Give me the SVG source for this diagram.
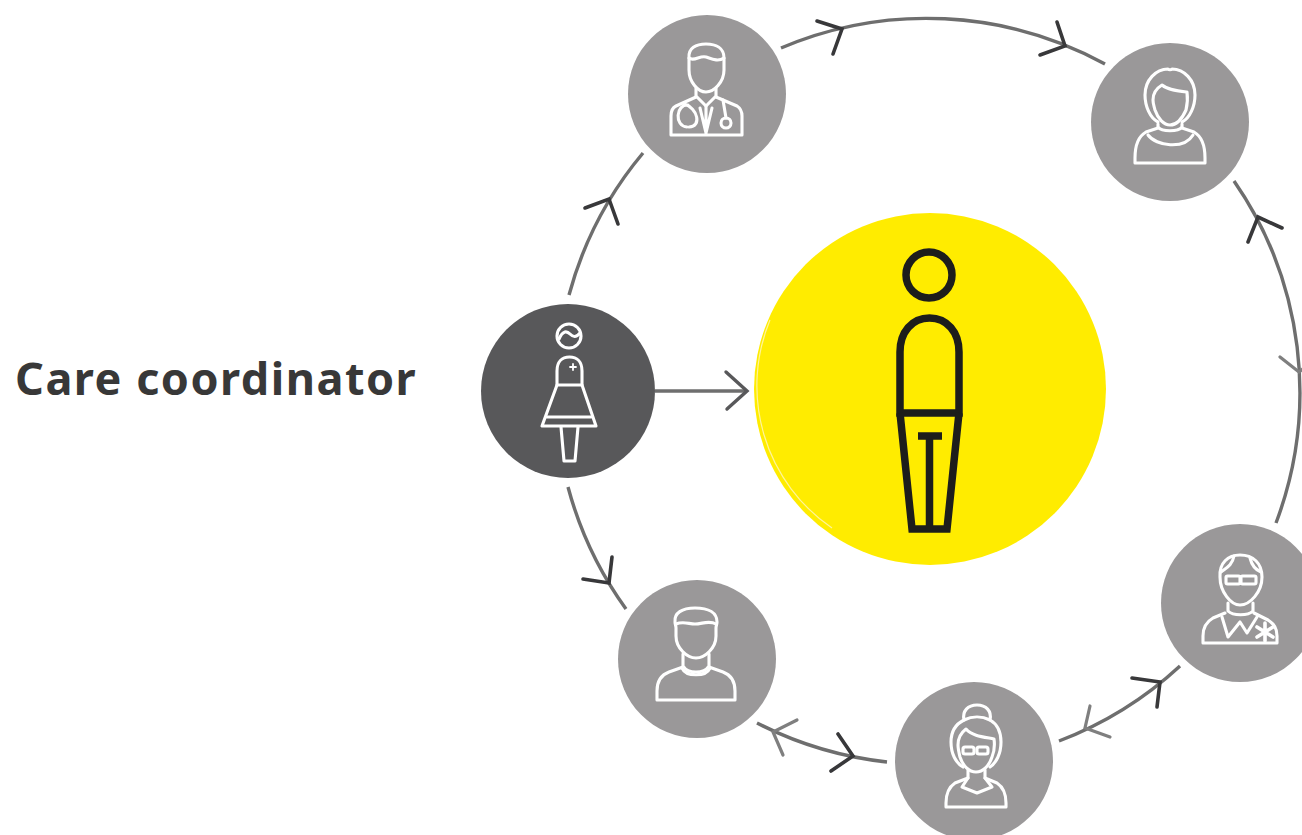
<svg xmlns="http://www.w3.org/2000/svg" width="1302" height="835" viewBox="0 0 1302 835">
<style>
.disc{fill:#9a9899}
.ic{fill:none;stroke:#fff;stroke-width:3.1;stroke-linejoin:round;stroke-linecap:round}
.ln{fill:none;stroke:#6e6e6e;stroke-width:3.4;stroke-linecap:butt}
.ad{fill:none;stroke:#38383a;stroke-width:3.6;stroke-linecap:round;stroke-linejoin:miter}
.al{fill:none;stroke:#7f7f7f;stroke-width:3.2;stroke-linecap:round;stroke-linejoin:miter}
.bk{fill:none;stroke:#1d1d1b;stroke-width:7.5;stroke-linejoin:miter}
</style>
<rect width="1302" height="835" fill="#fff"/>
<text id="label" x="15" y="395" font-family="'Noto Sans','Open Sans',sans-serif" font-weight="700" font-size="45" letter-spacing="1.5" fill="#383838">Care coordinator</text>
<g id="connectors">
<path class="ln" d="M569 295A372 372 0 0 1 643 153"/>
<path class="ad" d="M585 208L609 199L618 224"/>
<path class="ln" d="M781 48A372 372 0 0 1 1105 64"/>
<path class="ad" d="M817 21L842 29L833 54"/>
<path class="ad" d="M1057 22L1065 46L1040 55"/>
<path class="ln" d="M1234 181A371 371 0 0 1 1276 523"/>
<path class="ad" d="M1248 242L1258 217L1282 228"/>
<path class="al" d="M1280 357L1299 372L1304 368"/>
<path class="ln" d="M1059 741A373 373 0 0 0 1180 666"/>
<path class="ad" d="M1132 678L1160 682L1157 707"/>
<path class="al" d="M1090 706L1085 728L1110 737"/>
<path class="ln" d="M757 723A374 374 0 0 0 887 762"/>
<path class="al" d="M797 720L773 732L783 755"/>
<path class="ad" d="M838 734L853 756L831 771"/>
<path class="ln" d="M568 487A373 373 0 0 0 626 609"/>
<path class="ad" d="M583 579L609 583L612 557"/>
<path class="ln" d="M655 391H746"/>
<path class="al" style="stroke:#58585a;stroke-width:3.4" d="M726 372L747 391L727 409"/>
</g>
<g id="patient">
<circle cx="930" cy="389" r="176" fill="#ffec00"/>
<path d="M770 320A172 172 0 0 0 832 528" fill="none" stroke="#fff49a" stroke-width="1.2"/>
<circle class="bk" cx="929" cy="275" r="23"/>
<path class="bk" d="M900 413V352C900 332 912 318 929.500 318C947 318 959 332 959 352V413Z"/>
<path class="bk" d="M900 413L912 529H947L959 413"/>
<path class="bk" d="M918 436H942M929.500 436V529"/>
</g>
<g id="coordinator">
<circle cx="568" cy="391" r="87" fill="#58585a"/>
<g class="ic">
<circle cx="569" cy="336" r="12"/>
<path d="M559 339C563 330 567 331 570 334C573 337 576 338 580 333"/>
<path d="M557 385V371C557 362 562 357 569.500 357C577 357 582 362 582 371V385Z"/>
<path d="M557 385L542 426H596L582 385"/>
<path d="M547 417H591"/>
<path d="M561 427L564 461H575L578 427"/>
<path stroke-width="1.800" d="M573 364V370M570 367H576"/>
</g>
</g>
<g id="doctor">
<circle class="disc" cx="707" cy="94" r="79"/>
<g class="ic">
<path d="M689 58C688 48 696 44 706 44C716 44 724 48 724 58V70C724 82 714 92 706 92C698 92 689 82 689 70Z"/>
<path d="M689 58C694 62 700 55 706 57C712 59 718 62 724 58"/>
<path d="M696 88V96L706 106L716 96V88"/>
<path d="M696 97L676 106C672 108 671 112 671 116V135H742V116C742 112 740 108 737 106L716 97"/>
<path d="M706 106V134M700 108L706 133L712 108"/>
<path d="M688 105C676 104 674 126 687 127M684 104C698 108 702 127 689 127"/>
<path d="M723 100L726 118"/>
<circle cx="726" cy="123" r="5"/>
</g>
</g>
<g id="relative">
<circle class="disc" cx="1170" cy="122" r="79"/>
<g class="ic">
<path d="M1158 122C1150 118 1145 106 1145 95C1145 80 1156 69 1168 69C1169 70 1171 70 1172 69C1184 69 1195 80 1195 95C1195 106 1190 118 1182 122"/>
<path d="M1153 100C1153 92 1157 88 1162 85C1168 90 1178 91 1187 92C1188 100 1187 106 1186 110C1182 119 1176 125 1170 125C1164 125 1158 119 1155 110C1154 106 1153 104 1153 100Z"/>
<path d="M1158 124V127C1162 132 1178 132 1182 127V124"/>
<path d="M1148 135C1156 146 1184 150 1193 135"/>
<path d="M1158 128L1146 132C1139 136 1135 145 1135 158V163H1205V158C1205 145 1201 136 1194 132L1182 128"/>
</g>
</g>
<g id="specialist">
<circle class="disc" cx="1240" cy="603" r="79"/>
<g class="ic">
<path d="M1220 577C1219 563 1228 555 1240 555C1253 555 1262 563 1262 577C1262 592 1250 605 1240 605C1231 605 1220 592 1220 577Z"/>
<path d="M1221 572C1226 568 1232 566 1234 556M1250 558C1252 566 1256 570 1261 572"/>
<rect x="1226" y="576" width="14" height="8" rx="1.500"/>
<rect x="1241" y="576" width="15" height="8" rx="1.500"/>
<path d="M1228 603V611C1233 616 1248 616 1253 611V603"/>
<path d="M1222 617L1228 637L1240 622L1247 633L1257 617"/>
<path d="M1225 613L1213 618C1206 622 1203 628 1203 636V643H1277V636C1277 628 1274 624 1268 620L1254 613"/>
<path stroke-width="3.600" d="M1265 623V641M1257 627L1273 637M1273 627L1257 637"/>
</g>
</g>
<g id="nurse">
<circle class="disc" cx="974" cy="761" r="79"/>
<g class="ic">
<path d="M964 720C962 711 968 705 977 705C986 705 992 711 990 720C982 716 972 716 964 720Z"/>
<path d="M964 720C956 724 951 732 951 742C951 754 956 763 963 767M990 720C997 724 1001 732 1001 742C1001 754 996 763 990 767"/>
<path d="M958 745C958 736 962 732 966 729C972 736 984 737 994 739C995 746 994 752 992 757C989 766 983 772 976 772C969 772 963 766 960 757C959 753 958 749 958 745Z"/>
<rect x="963" y="747" width="11" height="7" rx="2"/>
<rect x="977" y="747" width="11" height="7" rx="2"/>
<path d="M968 770V778L962 787L977 793L992 787L985 778V770"/>
<path d="M968 778L955 783C949 787 946 795 946 803V807H1006V803C1006 795 1003 787 997 783L985 778"/>
</g>
</g>
<g id="carer">
<circle class="disc" cx="697" cy="659" r="79"/>
<g class="ic">
<path d="M675 622C674 613 682 608 695 608C709 608 717 613 717 622C717 624 716 626 716 628V636C716 648 705 658 696 658C687 658 676 648 676 636V628C676 626 675 624 675 622Z"/>
<path d="M676 624C683 621 689 624 695 624C702 624 709 620 716 624"/>
<path d="M683 654V666C688 674 704 674 709 666V654"/>
<path d="M682 668C686 677 706 677 710 668"/>
<path d="M683 667L669 672C661 675 657 682 657 691V700H735V691C735 682 731 675 723 672L709 667"/>
</g>
</g>
</svg>
